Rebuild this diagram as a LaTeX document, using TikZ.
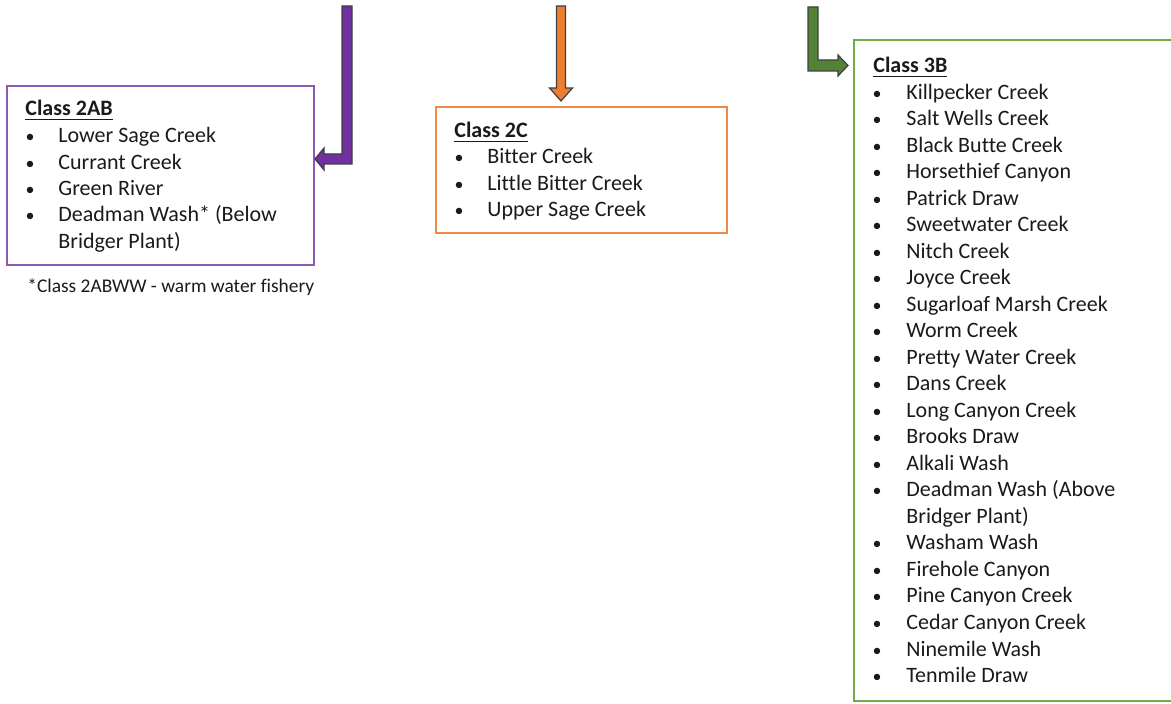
\documentclass[tikz,border=0pt]{standalone}
\usepackage{fontspec}
\setmainfont{Carlito}[Ligatures=NoCommon]
\usetikzlibrary{calc,fit}
\definecolor{ClassPurple}{HTML}{7030A0}
\definecolor{ClassOrange}{HTML}{ED7D31}
\definecolor{ClassGreen}{HTML}{548235}
\definecolor{BoxGreen}{HTML}{70AD47}
\definecolor{InkGray}{HTML}{1A1A1A}

\begin{document}
\begin{tikzpicture}[x=0.5pt,y=-0.5pt,
  classbox/.style={draw=#1,line width=1pt,inner sep=0pt},
  blockarrow/.style={draw=black!75,line width=0.6pt,line join=miter,fill=#1},
  heading/.style={anchor=base west,inner sep=0pt,text=InkGray,
    font=\fontsize{11}{13}\selectfont\bfseries},
  item/.style={anchor=base west,inner sep=0pt,text=InkGray,
    font=\fontsize{11}{13}\selectfont},
  dot/.style={anchor=base,inner sep=0pt,text=InkGray,
    font=\fontsize{9}{11}\selectfont},
  note/.style={anchor=base west,inner sep=0pt,text=InkGray,
    font=\fontsize{9.7}{12}\selectfont}]
  \useasboundingbox (0,0) rectangle (1171,704);

  % the three class boxes
  \node[classbox=ClassPurple!80!white,fit={(7,86) (314,265)}] (b2ab) {};
  \node[classbox=ClassOrange!90!white,fit={(436,107) (727,233)}] (b2c) {};
  \node[classbox=BoxGreen,fit={(854,40) (1185,701)}] (b3b) {};

  % arrows coming in from above
  \coordinate (s2ab) at (347,6);
  \coordinate (t2ab) at (315,159);
  \coordinate (s2c) at (561,6);
  \coordinate (t2c) at ($(b2c.north -| s2c)+(0,-5)$);
  \coordinate (s3b) at (813,7);
  \coordinate (t3b) at (848,65.5);

  \draw[blockarrow=ClassPurple] ($(s2ab)+(-5,0)$) |- ($(t2ab)+(9,-5)$)
      -- ++(0,-6) -- (t2ab) -- ++(9,11) -- ++(0,-6) -| ($(s2ab)+(5,0)$) -- cycle;
  \draw[blockarrow=ClassOrange] ($(s2c)+(-4.5,0)$) -- ($(t2c)+(-4.5,-13)$)
      -- ++(-7,0) -- (t2c) -- ++(11.5,-13) -- ++(-7,0) -- ($(s2c)+(4.5,0)$) -- cycle;
  \draw[blockarrow=ClassGreen] ($(s3b)+(-5,0)$) |- ($(t3b)+(-10,5.5)$)
      -- ++(0,5) -- (t3b) -- ++(-10,-10.5) -- ++(0,5) -| ($(s3b)+(5,0)$) -- cycle;

  % Class 2AB
  \node[heading] (h2ab) at (25,116) {\underline{Class 2AB}};
  \foreach \name/\b [count=\i from 0] in {Lower Sage Creek/1, Currant Creek/1,
      Green River/1, {Deadman Wash* (Below}/1, {Bridger Plant)}/0}{
    \node[item] (i2ab-\i) at (58,143+26.3*\i) {\name};
    \ifnum\b=1 \node[dot] at (30,143+26.3*\i) {\textbullet};\fi
  }
  \node[note] (fn) at (27,293) {*Class 2ABWW - warm water fishery};

  % Class 2C
  \node[heading] (h2c) at (454,138) {\underline{Class 2C}};
  \foreach \name [count=\i from 0] in {Bitter Creek, Little Bitter Creek,
      Upper Sage Creek}{
    \node[item] (i2c-\i) at (487,164+26.5*\i) {\name};
    \node[dot] at (459,164+26.5*\i) {\textbullet};
  }

  % Class 3B
  \node[heading] (h3b) at (873,73) {\underline{Class 3B}};
  \foreach \name/\b [count=\i from 0] in {Killpecker Creek/1, Salt Wells Creek/1,
      Black Butte Creek/1, Horsethief Canyon/1, Patrick Draw/1,
      Sweetwater Creek/1, Nitch Creek/1, Joyce Creek/1,
      Sugarloaf Marsh Creek/1, Worm Creek/1, Pretty Water Creek/1,
      Dans Creek/1, Long Canyon Creek/1, Brooks Draw/1, Alkali Wash/1,
      {Deadman Wash (Above}/1, {Bridger Plant)}/0, Washam Wash/1,
      Firehole Canyon/1, Pine Canyon Creek/1, Cedar Canyon Creek/1,
      Ninemile Wash/1, Tenmile Draw/1}{
    \node[item] (i3b-\i) at (906,99.5+26.5*\i) {\name};
    \ifnum\b=1 \node[dot] at (877,99.5+26.5*\i) {\textbullet};\fi
  }
\end{tikzpicture}
\end{document}
